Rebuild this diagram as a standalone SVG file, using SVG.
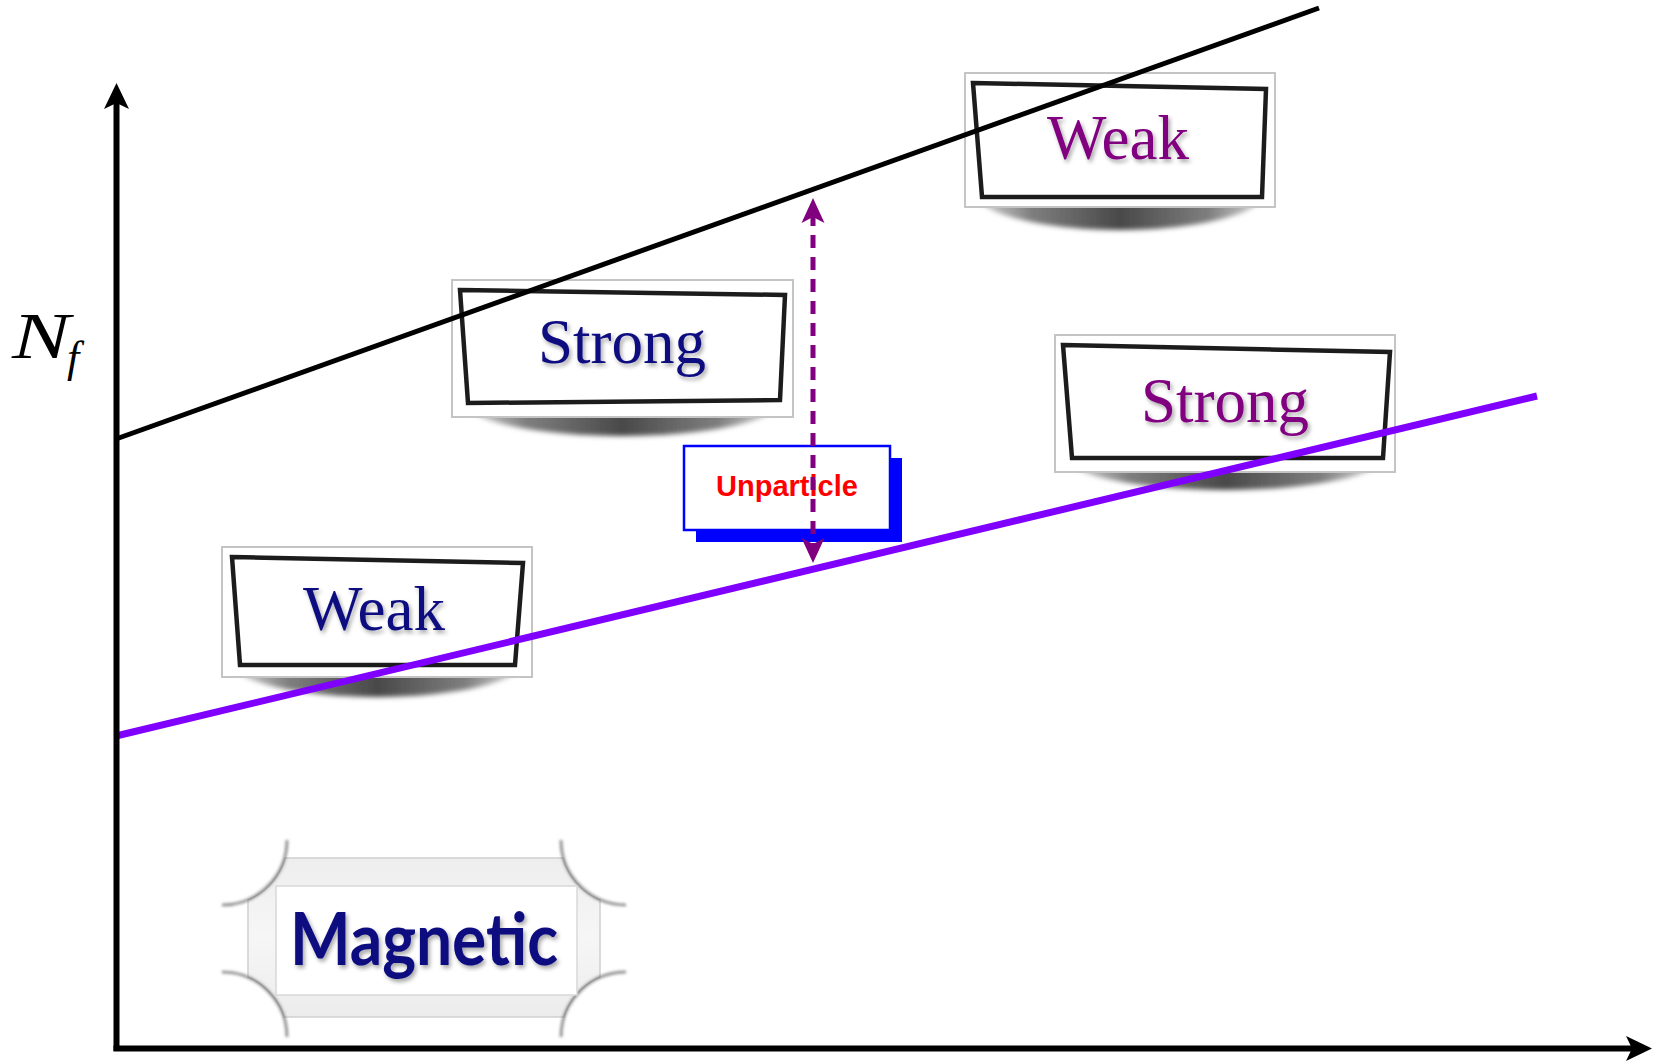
<svg xmlns="http://www.w3.org/2000/svg" width="1656" height="1062" viewBox="0 0 1656 1062">
  <style>
    .outer { fill: #ffffff; stroke: #c4c4c4; stroke-width: 2; }
    .inner { fill: #ffffff; stroke: #1e1e1e; stroke-width: 4.5; stroke-linejoin: miter; filter: url(#soft); }
    .shadow { fill: url(#shadowGrad); filter: url(#blur3); }
    .lbl { font-family: "Liberation Serif", "Times New Roman", serif; font-size: 63px; text-anchor: middle; filter: url(#tshadow); }
    .navy { fill: #0b0b80; }
    .purple { fill: #800080; }
    .axis { stroke: #000; stroke-width: 6; fill: none; }
  </style>
  <defs>
    <linearGradient id="shadowGrad" x1="0" y1="0" x2="1" y2="0">
      <stop offset="0" stop-color="#a0a0a0" stop-opacity="0.45"/>
      <stop offset="0.2" stop-color="#707070" stop-opacity="0.9"/>
      <stop offset="0.5" stop-color="#484848" stop-opacity="1"/>
      <stop offset="0.8" stop-color="#707070" stop-opacity="0.9"/>
      <stop offset="1" stop-color="#a0a0a0" stop-opacity="0.45"/>
    </linearGradient>
    <linearGradient id="magFill" x1="0" y1="0" x2="0" y2="1">
      <stop offset="0" stop-color="#eeeeee"/>
      <stop offset="0.5" stop-color="#f6f6f6"/>
      <stop offset="1" stop-color="#ececec"/>
    </linearGradient>
    <filter id="blur3" x="-20%" y="-50%" width="140%" height="200%">
      <feGaussianBlur stdDeviation="2.5"/>
    </filter>
    <filter id="soft" x="-5%" y="-10%" width="110%" height="120%">
      <feGaussianBlur stdDeviation="0.5"/>
    </filter>
    <filter id="arcBlur" x="-30%" y="-30%" width="160%" height="160%">
      <feGaussianBlur stdDeviation="1.6"/>
    </filter>
    <filter id="tshadow" x="-10%" y="-20%" width="130%" height="150%">
      <feDropShadow dx="2" dy="3" stdDeviation="2" flood-color="#000" flood-opacity="0.35"/>
    </filter>
    <marker id="axisHead" markerUnits="userSpaceOnUse" viewBox="-32 -15 34 30" markerWidth="34" markerHeight="30" refX="-15" refY="0" orient="auto">
      <path d="M0,0 L-26,-12.5 L-20,0 L-26,12.5 Z" fill="#000"/>
    </marker>
    <marker id="purpleHead" markerUnits="userSpaceOnUse" viewBox="-32 -15 34 30" markerWidth="34" markerHeight="30" refX="-15" refY="0" orient="auto-start-reverse">
      <path d="M0,0 L-25,-11.5 L-19,0 L-25,11.5 Z" fill="#800080"/>
    </marker>
  </defs>

  <rect x="0" y="0" width="1656" height="1062" fill="#ffffff"/>

  <!-- Weak (top right) -->
  <g id="node-weak-top">
    <ellipse class="shadow" cx="1120" cy="190" rx="148" ry="40"/>
    <rect class="outer" x="965" y="73" width="310" height="134"/>
    <polygon class="inner" points="973,83 1266,89 1262,197 982,197"/>
    <text class="lbl purple" x="1118" y="159">Weak</text>
  </g>

  <!-- Strong (top left) -->
  <g id="node-strong-top">
    <ellipse class="shadow" cx="622" cy="400" rx="160" ry="36"/>
    <rect class="outer" x="452" y="280" width="341" height="137"/>
    <polygon class="inner" points="460,290 785,295 780,400 468,403"/>
    <text class="lbl navy" x="622" y="363">Strong</text>
  </g>

  <!-- Weak (bottom left) -->
  <g id="node-weak-bottom">
    <ellipse class="shadow" cx="377" cy="660" rx="148" ry="37"/>
    <rect class="outer" x="222" y="547" width="310" height="130"/>
    <polygon class="inner" points="232,557 523,563 515,665 240,665"/>
    <text class="lbl navy" x="374" y="630">Weak</text>
  </g>

  <!-- Strong (right) -->
  <g id="node-strong-right">
    <ellipse class="shadow" cx="1225" cy="456" rx="160" ry="34"/>
    <rect class="outer" x="1055" y="335" width="340" height="137"/>
    <polygon class="inner" points="1063,345 1390,352 1383,458 1072,458"/>
    <text class="lbl purple" x="1225" y="422">Strong</text>
  </g>

  <!-- Magnetic -->
  <g id="node-magnetic">
    <path d="M285,858 L563,858 A65,65 0 0 0 600,900 L600,977 A65,65 0 0 0 564,1017 L284,1017 A65,65 0 0 0 248,977 L248,900 A65,65 0 0 0 285,858 Z" fill="url(#magFill)" stroke="#cfcfcf" stroke-width="1.5"/>
    <g fill="none" stroke="#555" stroke-width="2.5" stroke-opacity="0.75" filter="url(#arcBlur)">
      <path d="M287,840 A65,65 0 0 1 222,905"/>
      <path d="M561,840 A65,65 0 0 0 626,905"/>
      <path d="M287,1037 A65,65 0 0 0 222,972"/>
      <path d="M561,1037 A65,65 0 0 1 626,972"/>
    </g>
    <rect x="276" y="886" width="301" height="109" fill="#ffffff" stroke="#d8d8d8" stroke-width="1.5"/>
    <text x="424" y="965" font-family="Lato, 'Liberation Sans', sans-serif" font-weight="700" font-size="72" fill="#0b0b80" text-anchor="middle" textLength="268" lengthAdjust="spacingAndGlyphs" filter="url(#tshadow)">Magnetic</text>
  </g>

  <!-- Unparticle -->
  <g id="node-unparticle">
    <rect x="696" y="458" width="206" height="84" fill="#0000ff"/>
    <rect x="684" y="446" width="206" height="84" fill="#ffffff" stroke="#0000ff" stroke-width="2.5"/>
    <text x="787" y="496" font-family="'Liberation Sans', Arial, sans-serif" font-weight="700" font-size="29" fill="#ff0000" text-anchor="middle">Unparticle</text>
  </g>

  <!-- N_f label -->
  <g id="label-nf">
    <text x="12" y="358" font-family="'Liberation Serif', 'Times New Roman', serif" font-style="italic" font-size="66" fill="#000" textLength="58" lengthAdjust="spacingAndGlyphs">N</text>
    <text x="67" y="372" font-family="'Liberation Serif', 'Times New Roman', serif" font-style="italic" font-size="44" fill="#000">f</text>
  </g>

  <!-- connectors -->
  <g id="connectors">
    <line x1="116" y1="439" x2="1319" y2="8" stroke="#000" stroke-width="5"/>
    <line x1="116" y1="736" x2="1537" y2="396" stroke="#7f00ff" stroke-width="7"/>
    <path d="M813,213 L813,548" stroke="#800080" stroke-width="5" stroke-dasharray="13 9" fill="none" marker-start="url(#purpleHead)" marker-end="url(#purpleHead)"/>
  </g>

  <!-- axes -->
  <g id="axes">
    <path class="axis" d="M116.5,1051 L116.5,98" marker-end="url(#axisHead)"/>
    <path class="axis" d="M113.5,1048.5 L1637,1048.5" marker-end="url(#axisHead)"/>
  </g>
</svg>
